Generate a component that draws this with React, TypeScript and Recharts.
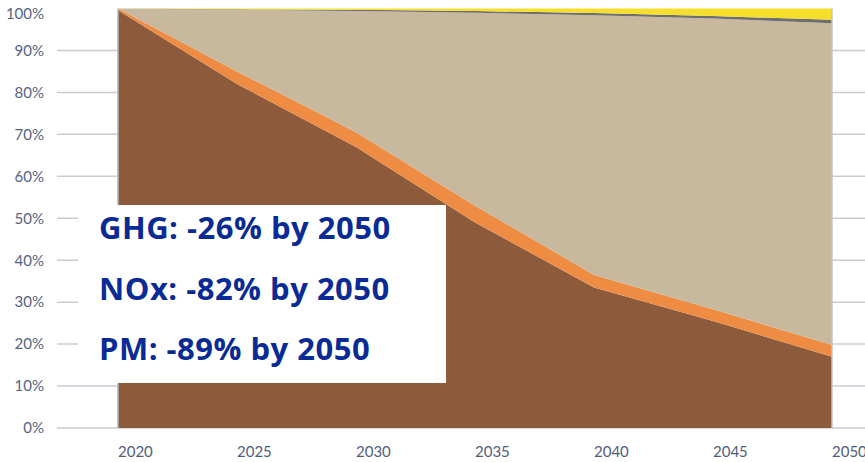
import React from "react";
import { AreaChart, Area, XAxis, YAxis, CartesianGrid, ReferenceLine } from "recharts";

const years = [2020, 2025, 2030, 2035, 2040, 2045, 2050];
const brown = [99.6, 82, 67, 49, 33.5, 25.5, 17];
const orange = [0.4, 3, 3.5, 4, 3, 2.8, 2.8];
const beige = [0, 14.7, 28.9, 46.0, 61.9, 69.3, 76.7];
const gray = [0, 0.1, 0.3, 0.4, 0.5, 0.6, 0.8];
const yellow = [0, 0.2, 0.3, 0.6, 1.1, 1.8, 2.7];

const yTicks = [0, 10, 20, 30, 40, 50, 60, 70, 80, 90, 100];
const gridValues = [0, 10, 20, 30, 40, 50, 60, 70, 80, 90];
const notes = ["GHG: -26% by 2050", "NOx: -82% by 2050", "PM: -89% by 2050"];

const data = years.map((y, i) => ({
  year: y,
  brown: brown[i],
  orange: orange[i],
  beige: beige[i],
  gray: gray[i],
  yellow: yellow[i],
}));

const XTick = (props: any) => {
  const { x, y, payload } = props;
  return (
    <text x={x} y={y + 29} textAnchor="start" fill="#4f5d7c" fontSize={15} fontFamily="Lato">
      {payload.value}
    </text>
  );
};

export default function App() {
  return (
    <div style={{ position: "absolute", left: 0, top: 0, width: 865, height: 462, overflow: "hidden", background: "#fff" }}>
      <div style={{ position: "absolute", left: 0, top: 5 }}>
        <AreaChart width={865} height={457} data={data} margin={{ top: 3.5, right: 0, bottom: 4, left: 0 }}>
          <CartesianGrid vertical={false} stroke="#c9ccd4" strokeWidth={1.5} horizontalValues={gridValues} />
          <XAxis
            dataKey="year"
            type="number"
            domain={[2017.437, 2051.387]}
            allowDataOverflow
            ticks={years}
            axisLine={false}
            tickLine={false}
            tickSize={0}
            tickMargin={0}
            height={30}
            tick={<XTick />}
          />
          <YAxis
            type="number"
            domain={[0, 100]}
            ticks={yTicks}
            width={57}
            axisLine={false}
            tickLine={false}
            tickSize={0}
            tickMargin={13}
            tickFormatter={(v: number) => `${v}%`}
            tick={{ fill: "#56647f", fontSize: 15, fontFamily: "Lato" }}
          />
          <Area type="linear" dataKey="brown" stackId="1" stroke="none" fill="#8d5b3c" fillOpacity={1} isAnimationActive={false} />
          <Area type="linear" dataKey="orange" stackId="1" stroke="none" fill="#ee8c44" fillOpacity={1} isAnimationActive={false} />
          <Area type="linear" dataKey="beige" stackId="1" stroke="none" fill="#c8b89d" fillOpacity={1} isAnimationActive={false} />
          <Area type="linear" dataKey="gray" stackId="1" stroke="none" fill="#6e6e6e" fillOpacity={1} isAnimationActive={false} />
          <Area type="linear" dataKey="yellow" stackId="1" stroke="none" fill="#f6df2c" fillOpacity={1} isAnimationActive={false} />
          <ReferenceLine x={2020} stroke="#b5b5b5" strokeWidth={1.5} />
          <ReferenceLine x={2050} stroke="#c4c4c4" strokeWidth={1.5} />
        </AreaChart>
      </div>
      <svg width={865} height={462} style={{ position: "absolute", left: 0, top: 0, pointerEvents: "none" }}>
        <rect x={78} y={205} width={368} height={178} fill="#ffffff" />
        {notes.map((t, i) => (
          <text
            key={t}
            x={99}
            y={239 + i * 60.5}
            fill="#0a2b95"
            fontSize={31}
            fontWeight={700}
            fontFamily="'Open Sans'"
            letterSpacing={0.5}
          >
            {t}
          </text>
        ))}
      </svg>
    </div>
  );
}
